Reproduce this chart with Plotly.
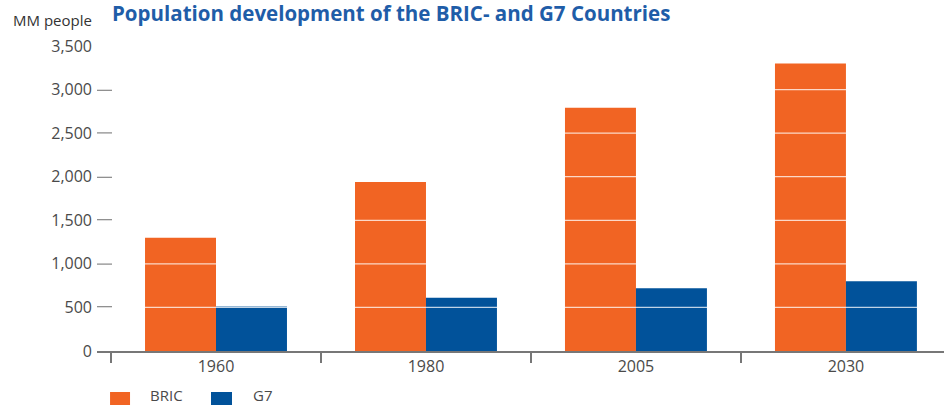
import plotly.graph_objects as go

years = ["1960", "1980", "2005", "2030"]
bric = [1300, 1940, 2790, 3300]
g7 = [510, 610, 720, 800]
y_ticks = [0, 500, 1000, 1500, 2000, 2500, 3000, 3500]
y_tick_labels = ["0", "500", "1,000", "1,500", "2,000", "2,500", "3,000", "3,500"]

ORANGE = "#F16423"
BLUE = "#01529A"
TXT = "#4A4A4A"
FONT = "Open Sans, Noto Sans, sans-serif"

fig = go.Figure()
fig.add_trace(go.Bar(x=years, y=bric, name="BRIC", marker=dict(color=ORANGE, line=dict(width=0))))
fig.add_trace(go.Bar(x=years, y=g7, name="G7", marker=dict(color=BLUE, line=dict(width=0))))

# white gridlines drawn over the bars
for v in y_ticks[1:-1]:
    fig.add_shape(type="line", xref="paper", yref="y", x0=0, x1=1, y0=v, y1=v,
                  line=dict(color="rgba(255,255,255,0.75)", width=1.3), layer="above")

# manual legend
fig.add_shape(type="rect", xref="paper", yref="paper", x0=0.0154, x1=0.0390, y0=-0.1344, y1=-0.20,
              fillcolor=ORANGE, line=dict(width=0))
fig.add_shape(type="rect", xref="paper", yref="paper", x0=0.1346, x1=0.1594, y0=-0.1344, y1=-0.20,
              fillcolor=BLUE, line=dict(width=0))
fig.add_annotation(text="BRIC", xref="paper", yref="paper", x=0.0610, y=-0.1443, xanchor="left", yanchor="middle",
                   showarrow=False, borderpad=0, font=dict(family=FONT, size=15, color=TXT))
fig.add_annotation(text="G7", xref="paper", yref="paper", x=0.1830, y=-0.1443, xanchor="left", yanchor="middle",
                   showarrow=False, borderpad=0, font=dict(family=FONT, size=15, color=TXT))

# title and unit label
fig.add_annotation(text="<b>Population development of the BRIC- and G7 Countries</b>", xref="paper", yref="paper",
                   x=0.0170, y=1.107, xanchor="left", yanchor="middle", showarrow=False, borderpad=0,
                   font=dict(family=FONT, size=20.5, color="#1F5DA8"))
fig.add_annotation(text="MM people", xref="paper", yref="paper", x=-0.1010, y=1.085, xanchor="left",
                   yanchor="middle", showarrow=False, font=dict(family=FONT, size=15, color="#333333"))

fig.update_layout(
    width=944, height=405,
    margin=dict(l=97, r=0, t=46, b=54),
    paper_bgcolor="white", plot_bgcolor="white",
    barmode="group", bargap=0.324, bargroupgap=0,
    showlegend=False,
    font=dict(family=FONT, size=16, color=TXT),
)
fig.update_xaxes(
    type="category", range=[-0.5667, 3.467],
    showline=True, linecolor="#777777", linewidth=1.5,
    ticks="outside", tickson="boundaries", ticklen=10, tickcolor="#777777", tickwidth=1.5,
    showgrid=False, tickfont=dict(family=FONT, size=16, color=TXT),
)
fig.update_yaxes(
    range=[0, 3500], tickvals=y_ticks, ticktext=y_tick_labels,
    showline=False, showgrid=False, zeroline=False,
    ticks="inside", ticklen=15, tickcolor="#777777", tickwidth=1.5,
    ticklabelstandoff=4,
    tickfont=dict(family=FONT, size=16, color=TXT),
)

fig.write_html("out.html")
